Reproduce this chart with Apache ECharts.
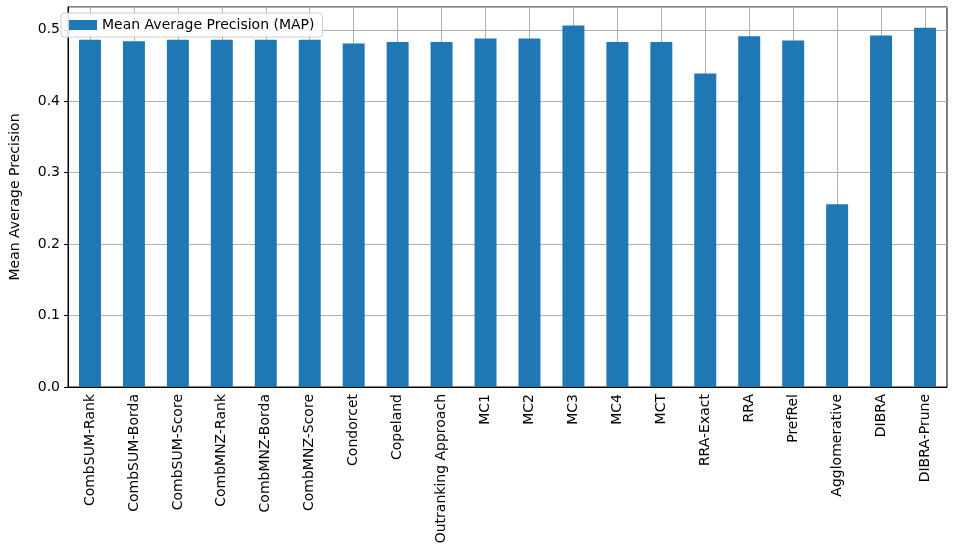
<!DOCTYPE html>
<html>
<head>
<meta charset="utf-8">
<script src="https://cdn.jsdelivr.net/npm/echarts@6/dist/echarts.min.js"></script>
<style>html,body{margin:0;padding:0;background:#fff}#chart{width:954px;height:551px}</style>
</head>
<body>
<div id="chart"></div>
<script>
var methods = ['CombSUM-Rank', 'CombSUM-Borda', 'CombSUM-Score', 'CombMNZ-Rank', 'CombMNZ-Borda',
    'CombMNZ-Score', 'Condorcet', 'Copeland', 'Outranking Approach', 'MC1', 'MC2', 'MC3', 'MC4',
    'MCT', 'RRA-Exact', 'RRA', 'PrefRel', 'Agglomerative', 'DIBRA', 'DIBRA-Prune'];
var mapValues = [0.486, 0.484, 0.486, 0.486, 0.486, 0.486, 0.481, 0.483, 0.483, 0.488,
    0.488, 0.506, 0.483, 0.483, 0.439, 0.491, 0.485, 0.256, 0.492, 0.503];

// half-step slots so vertical grid lines fall on bar centres
var gridSlots = [];
for (var i = 0; i <= methods.length * 2; i++) gridSlots.push(String(i));

var chart = echarts.init(document.getElementById('chart'));

var font = 'DejaVu Sans';
var option = {
    animation: false,
    grid: { left: 66, right: 7, top: 7, bottom: 164, show: true, borderColor: '#000', borderWidth: 1 },
    legend: {
        left: 61, top: 13,
        data: ['Mean Average Precision (MAP)'],
        icon: 'rect', itemWidth: 28, itemHeight: 10,
        textStyle: { fontFamily: font, fontSize: 14, color: '#000' },
        backgroundColor: 'rgba(255,255,255,0.85)',
        borderColor: '#ccc', borderWidth: 1, borderRadius: 3,
        padding: [5, 8]
    },
    xAxis: [{
        type: 'category',
        data: methods,
        axisLine: { lineStyle: { color: '#000' } },
        axisTick: { alignWithLabel: true, length: 4, lineStyle: { color: '#000' } },
        axisLabel: { rotate: 90, interval: 0, fontFamily: font, fontSize: 14, color: '#000', margin: 7 },
        splitLine: { show: false }
    }, {
        type: 'category',
        data: gridSlots,
        boundaryGap: false,
        position: 'bottom',
        axisLine: { show: false },
        axisTick: { show: false },
        axisLabel: { show: false },
        splitLine: { show: true, interval: function (idx) { return idx % 2 === 1; }, lineStyle: { color: '#b0b0b0' } }
    }],
    yAxis: {
        type: 'value',
        min: 0, max: 0.532, interval: 0.1,
        name: 'Mean Average Precision',
        nameLocation: 'middle', nameGap: 46,
        nameTextStyle: { fontFamily: font, fontSize: 14, color: '#000' },
        axisLine: { show: true, lineStyle: { color: '#000' } },
        axisTick: { show: true, length: 4, lineStyle: { color: '#000' } },
        axisLabel: { fontFamily: font, fontSize: 14, color: '#000', formatter: function (v) { return v.toFixed(1); }, showMaxLabel: false },
        splitLine: { lineStyle: { color: '#b0b0b0' } }
    },
    series: [{
        name: 'Mean Average Precision (MAP)',
        type: 'bar',
        data: mapValues,
        barWidth: '50%',
        itemStyle: { color: '#1f77b4' }
    }]
};

option && chart.setOption(option);
window.addEventListener('resize', chart.resize);
</script>
</body>
</html>
